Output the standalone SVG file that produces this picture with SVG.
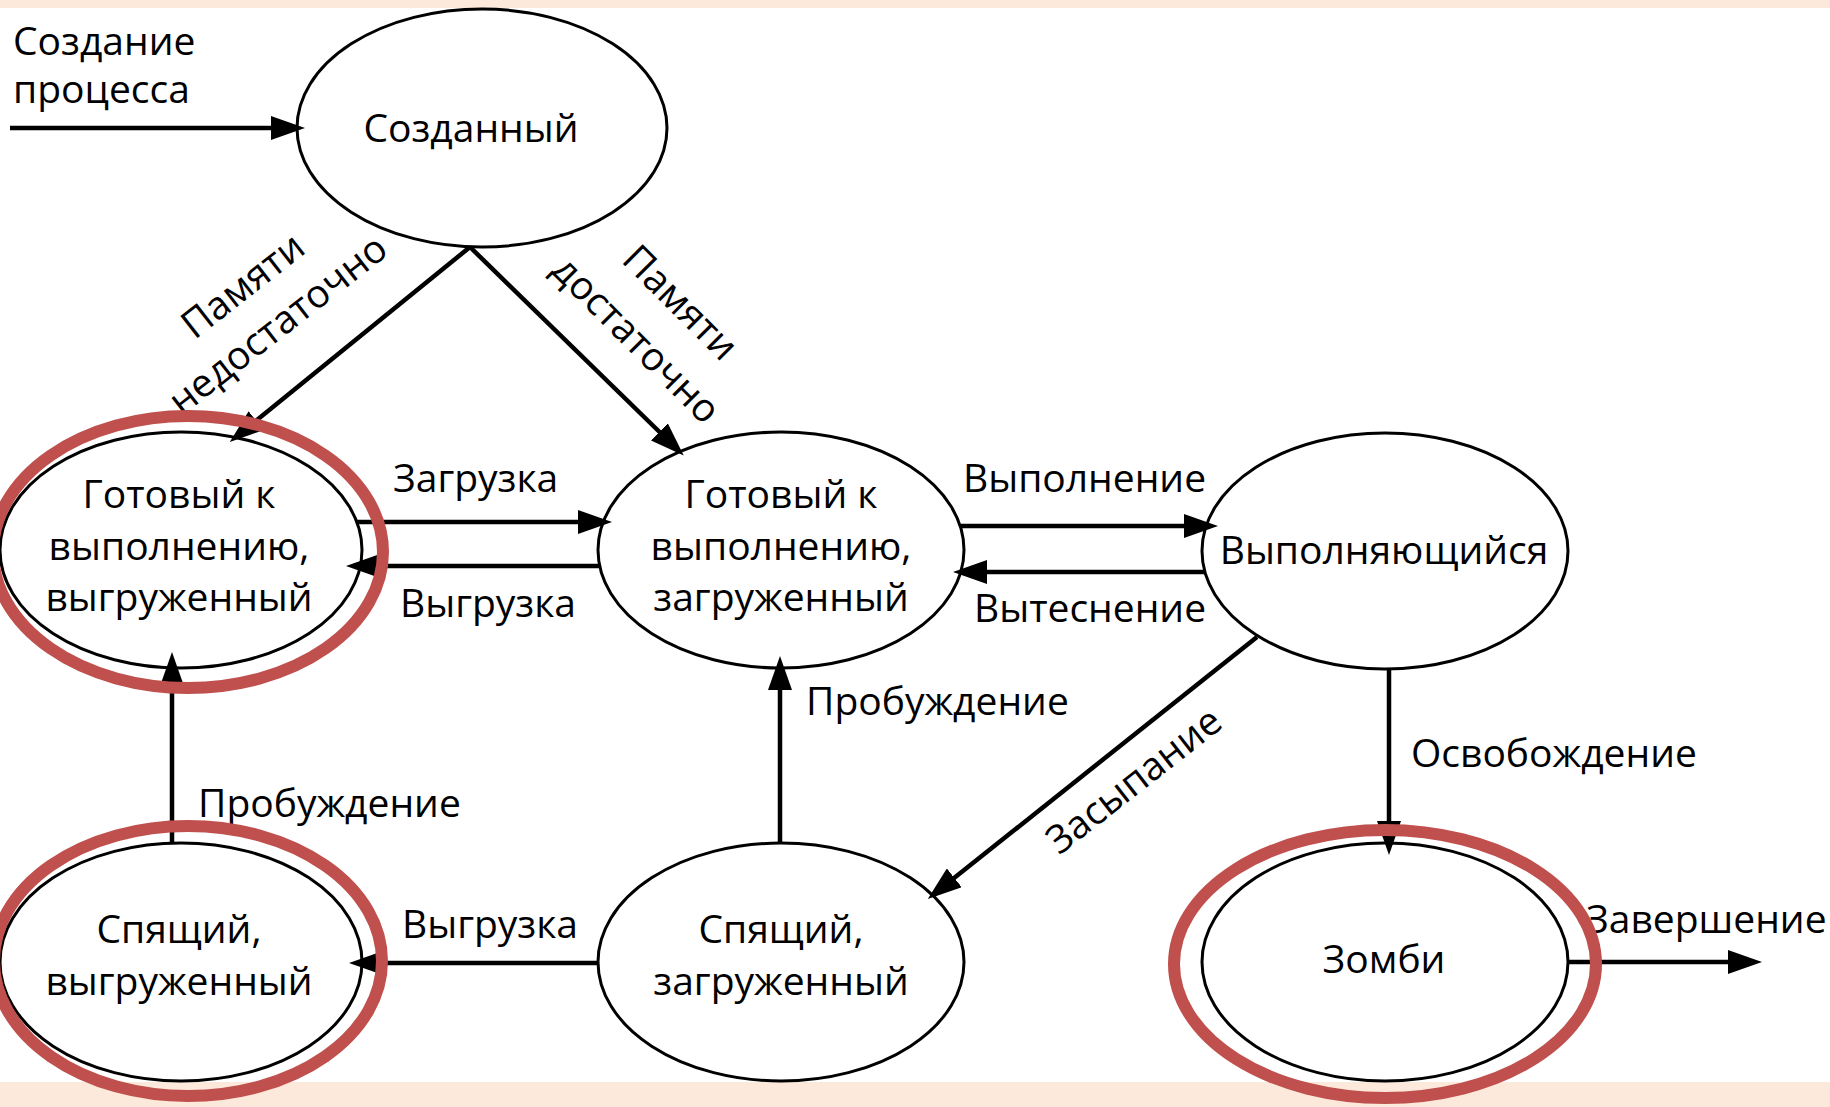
<svg xmlns="http://www.w3.org/2000/svg" width="1830" height="1107" viewBox="0 0 1830 1107">
  <style>
    .node { fill: #ffffff; stroke: #000000; stroke-width: 3; }
    .lbl { font-family: "Open Sans", "DejaVu Sans", sans-serif; font-size: 39px; fill: #000000; }
    .mid { text-anchor: middle; }
    .edge { fill: none; stroke: #000000; stroke-width: 4.5; marker-end: url(#arrow); }
    .hl { fill: none; stroke: #c0504d; stroke-width: 12; }
    .band { fill: #fde9db; }
  </style>
  <defs>
    <marker id="arrow" viewBox="0 0 34 24" refX="26" refY="12" markerWidth="34" markerHeight="24" markerUnits="userSpaceOnUse" orient="auto">
      <path d="M0,0 L34,12 L0,24 z" fill="#000000"/>
    </marker>
  </defs>

  <rect x="0" y="0" width="1830" height="1107" fill="#ffffff"/>
  <rect class="band" x="0" y="0" width="1830" height="8"/>
  <rect class="band" x="0" y="1082" width="1830" height="25"/>

  <g id="node-created">
    <ellipse class="node" cx="482" cy="128" rx="185" ry="119"/>
    <text class="lbl mid" x="471" y="142">Созданный</text>
  </g>
  <g id="node-ready-swapped">
    <ellipse class="node" cx="181" cy="550" rx="181" ry="118"/>
    <text class="lbl mid" x="179" y="508">Готовый к</text>
    <text class="lbl mid" x="179" y="560">выполнению,</text>
    <text class="lbl mid" x="179" y="611">выгруженный</text>
  </g>
  <g id="node-ready-loaded">
    <ellipse class="node" cx="781" cy="550" rx="183" ry="118"/>
    <text class="lbl mid" x="781" y="508">Готовый к</text>
    <text class="lbl mid" x="781" y="560">выполнению,</text>
    <text class="lbl mid" x="781" y="611">загруженный</text>
  </g>
  <g id="node-running">
    <ellipse class="node" cx="1385" cy="551" rx="183" ry="118"/>
    <text class="lbl mid" x="1384" y="564">Выполняющийся</text>
  </g>
  <g id="node-sleep-swapped">
    <ellipse class="node" cx="181" cy="962" rx="181" ry="119"/>
    <text class="lbl mid" x="179" y="943">Спящий,</text>
    <text class="lbl mid" x="179" y="995">выгруженный</text>
  </g>
  <g id="node-sleep-loaded">
    <ellipse class="node" cx="781" cy="962" rx="183" ry="119"/>
    <text class="lbl mid" x="781" y="943">Спящий,</text>
    <text class="lbl mid" x="781" y="995">загруженный</text>
  </g>
  <g id="node-zombie">
    <ellipse class="node" cx="1385" cy="962" rx="183" ry="119"/>
    <text class="lbl mid" x="1384" y="973">Зомби</text>
  </g>

  <g id="connectors">
    <path class="edge" d="M10,128 L297,128"/>
    <path class="edge" d="M470,247 L236,437"/>
    <path class="edge" d="M470,247 L678,450"/>
    <path class="edge" d="M357,522 L604,522"/>
    <path class="edge" d="M600,566 L354,566"/>
    <path class="edge" d="M960,526 L1210,526"/>
    <path class="edge" d="M1205,572 L961,572"/>
    <path class="edge" d="M1257,637 L934,894"/>
    <path class="edge" d="M1389,669 L1389,847"/>
    <path class="edge" d="M1568,962 L1754,962"/>
    <path class="edge" d="M780,843 L780,664"/>
    <path class="edge" d="M172,843 L172,660"/>
    <path class="edge" d="M598,963 L357,963"/>
  </g>

  <g id="edge-labels">
    <text class="lbl" x="13" y="55">Создание</text>
    <text class="lbl" x="13" y="103">процесса</text>
    <text class="lbl mid" transform="translate(251,296) rotate(-38)">Памяти</text>
    <text class="lbl mid" transform="translate(286,335) rotate(-38)">недостаточно</text>
    <text class="lbl mid" transform="translate(671,312) rotate(45)">Памяти</text>
    <text class="lbl mid" transform="translate(627,349) rotate(45)">достаточно</text>
    <text class="lbl" x="393" y="492">Загрузка</text>
    <text class="lbl" x="400" y="617">Выгрузка</text>
    <text class="lbl" x="963" y="492">Выполнение</text>
    <text class="lbl" x="974" y="622">Вытеснение</text>
    <text class="lbl mid" transform="translate(1142,791) rotate(-38)">Засыпание</text>
    <text class="lbl" x="806" y="715">Пробуждение</text>
    <text class="lbl" x="198" y="817">Пробуждение</text>
    <text class="lbl" x="402" y="938">Выгрузка</text>
    <text class="lbl" x="1411" y="767">Освобождение</text>
    <text class="lbl" x="1586" y="933">Завершение</text>
  </g>

  <g id="highlights">
    <ellipse class="hl" cx="188" cy="552" rx="195" ry="136"/>
    <ellipse class="hl" cx="188" cy="961" rx="194" ry="135"/>
    <ellipse class="hl" cx="1385" cy="964" rx="211" ry="134"/>
  </g>
</svg>
